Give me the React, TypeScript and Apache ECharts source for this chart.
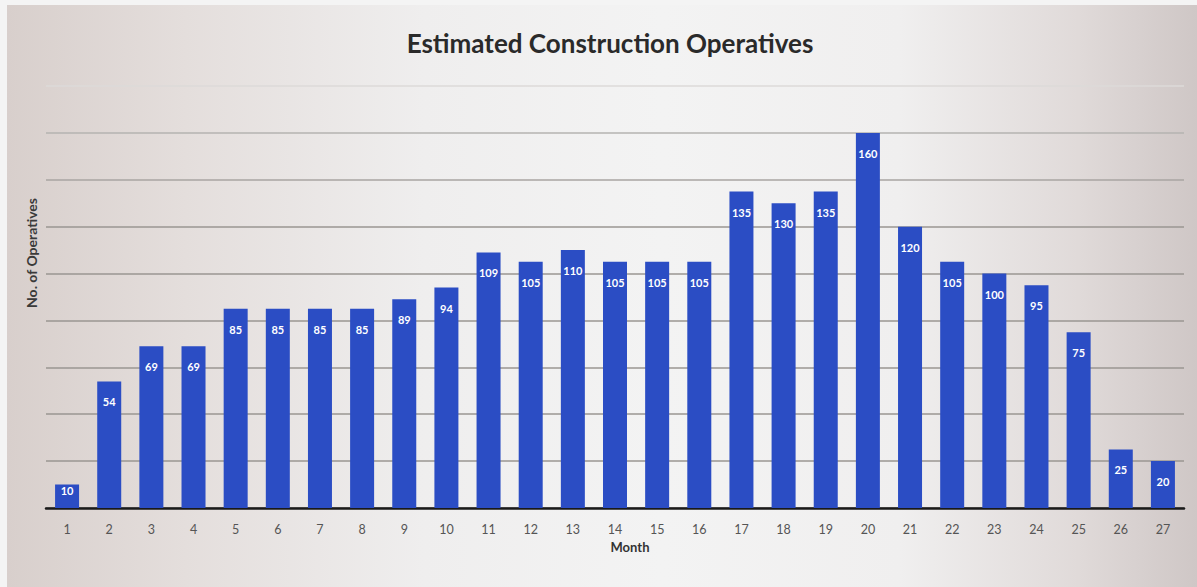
import React, { useEffect, useRef } from "react";
import * as echarts from "echarts";

const months = ["1","2","3","4","5","6","7","8","9","10","11","12","13","14","15","16","17","18","19","20","21","22","23","24","25","26","27"];
const operatives = [10,54,69,69,85,85,85,85,89,94,109,105,110,105,105,105,135,130,135,160,120,105,100,95,75,25,20];
const titleText = "Estimated Construction Operatives";
const yAxisName = "No. of Operatives";
const xAxisName = "Month";

export default function App() {
  const ref = useRef<HTMLDivElement>(null);
  useEffect(() => {
    if (!ref.current) return;
    const chart = echarts.init(ref.current, null, { renderer: "svg" });
    const barData = operatives.map((v) =>
      v < 15 ? { value: v, label: { distance: 0 } } : v
    );
    chart.setOption({
      animation: false,
      backgroundColor: "transparent",
      title: {
        text: titleText,
        left: 605,
        top: 25,
        textAlign: "center",
        textStyle: { fontFamily: "Lato", fontWeight: "bold", fontSize: 26, color: "#2a2a2a" },
      },
      grid: { left: 46, right: 13, top: 86, bottom: 79, containLabel: false },
      xAxis: {
        type: "category",
        data: months,
        name: xAxisName,
        nameLocation: "middle",
        nameGap: 29,
        nameTextStyle: { fontFamily: "Lato", fontWeight: "bold", fontSize: 13, color: "#333", padding: [0, 0, 0, 30] },
        axisLine: { lineStyle: { color: "#1a1a1a", width: 2.5 } },
        axisTick: { show: false },
        axisLabel: { color: "#555", fontSize: 12.5, margin: 15, fontFamily: "Lato" },
      },
      yAxis: {
        type: "value",
        min: 0,
        max: 180,
        interval: 20,
        axisLine: { show: false },
        axisTick: { show: false },
        axisLabel: { show: false },
        splitLine: {
          lineStyle: {
            color: ["#9a9692", "#9a9692", "#9a9692", "#9a9692", "#9a9692", "#9a9692", "#9a9692", "#a8a5a2", "#b5b3b0", "#dcdad8"],
            width: 1.5,
          },
        },
      },
      graphic: [
        {
          type: "text",
          x: 31,
          y: 253,
          rotation: Math.PI / 2,
          style: {
            text: yAxisName,
            fontFamily: "Lato",
            fontWeight: "bold",
            fontSize: 14,
            fill: "#3a3a3a",
            textAlign: "center",
            textVerticalAlign: "middle",
          },
        },
      ],
      series: [
        {
          type: "bar",
          data: barData,
          barWidth: 24,
          itemStyle: { color: "#2b4dc4" },
          label: {
            show: true,
            position: "insideTop",
            distance: 15,
            color: "#ffffff",
            fontWeight: "bold",
            fontSize: 11,
            fontFamily: "Lato",
          },
        },
      ],
    });
    return () => chart.dispose();
  }, []);
  return (
    <div
      style={{
        position: "fixed",
        left: 0,
        top: 0,
        width: 1197,
        height: 587,
        background: "#f4f4f4",
      }}
    >
      <div
        style={{
          position: "absolute",
          left: 7,
          top: 5,
          width: 1190,
          height: 582,
          background:
            "linear-gradient(to right, #d8cfcc 0%, #e4dedc 15%, #efeeee 35%, #f3f3f3 55%, #f0efef 75%, #e0dad9 90%, #cfc7c6 100%)",
        }}
      />
      <div ref={ref} style={{ position: "absolute", left: 0, top: 0, width: 1197, height: 587 }} />
    </div>
  );
}
